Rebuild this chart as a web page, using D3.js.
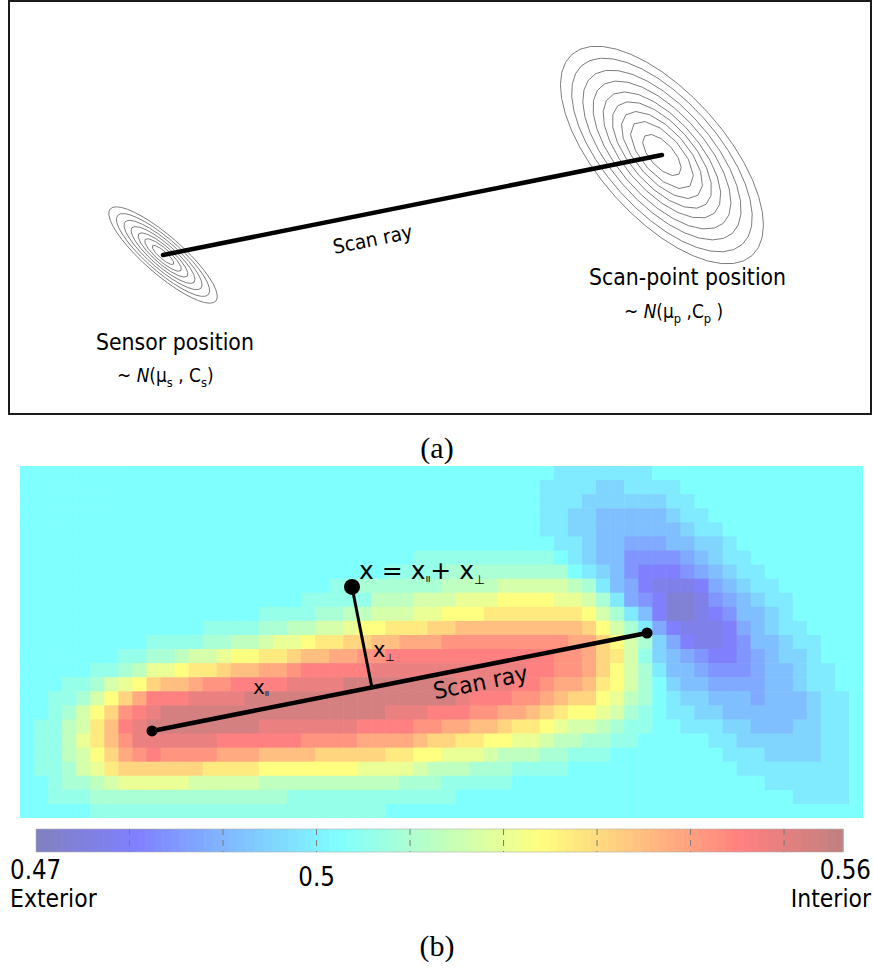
<!DOCTYPE html>
<html><head><meta charset="utf-8">
<script src="https://cdn.jsdelivr.net/npm/d3@7"></script>
<style>
body{margin:0;background:#fff}
svg{display:block}
text{font-family:"DejaVu Sans",sans-serif;fill:#000}
</style>
</head><body>
<svg id="fig" width="873" height="974"></svg>
<script>
// ================= DATA =================
// colour bar
const colorbarDomain = [0.47, 0.5563];
const colorbarTicks = [0.48, 0.49, 0.50, 0.51, 0.52, 0.53, 0.54, 0.55];
const colorbarLabels = ["0.47", "0.5", "0.56"];
const colorbarEnds = ["Exterior", "Interior"];

// heat map: 60 columns x 25 rows, run-length coded levels A (0.47) .. Y (0.556)
const levelCodes = "ABCDEFGHIJKLMNOPQRSTUVWXY";
const gridCols = 60, gridRows = 25;
const heatRows = [
  "38J7I15J",
  "37J4I2H4I13J",
  "37J3I6H2I12J",
  "37J2I2H5GH2I11J",
  "37J2I2H6GH2I10J",
  "38J2IH2G3F2G2HI9J",
  "28J10KJIH2G4EFGH2I8J",
  "26J4K9LJIHGE3DEFGH2I7J",
  "22J2K6L4M5NMLIGFD3CDFGH2I6J",
  "20J5K3M3N3O4P2ONLIFEDBBCEFGH2I5J",
  "17J4K2L2M3N2O3P7QPNLIGDBBCDEGGHI5J",
  "13J4K2L2M2NO2P3Q2R9SRPNLIFD3CDFGH2I4J",
  "9J4K2L2MN2OP2Q2R2S3T9U2TRPNLHFD2CDEGGH2I3J",
  "7J2K2LM2NO2P2QR2S2T2U12V2UTRQNKHGFE2DEFG2HI3J",
  "5J2KLM2OP2QR2S2TU5V11W2V2UTRPNLIGGF3EFGGH2I2J",
  "3J2KLNOPR2ST2U4V4W8X4W2VU2TSQPNLJH2G4F2GH2I2J",
  "2J2KLNPRT3V4W15XW3V2UTS2RPOMLJI2H3GF3GH2IJ",
  "2JKLNPRUVW16X3W3V2U2TSRQ2PONLKJ2I2H6GH2IJ",
  "J2KMNQSVW8X7W4V2U2T2SR2QPO2NML2K2J3I2H3G2H2IJ",
  "J2KMOQSU6W6V4U4TS2R2Q2P2ON2M2L2K5J2I6H2IJ",
  "J2KMNPRTUV4U3T4S5R2Q2P3ON3M2L3K8J3I4H2IJ",
  "J2KLNOQ6R4Q7P4ON3M3L4K12J8IJ",
  "2JK2LMN5O5N10M3L5K18J6IJ",
  "2J3K14L12K24J4IJ",
  "5J21K34J"
];

// scene positions (grid units: column, row)
const sensorTop = [10.18, 18.11];
const scanPointTop = [45.69, 11.01];
const sensorBottom = [9.395, 18.82];
const scanPointBottom = [44.63, 11.86];
const queryPoint = [23.63, 8.59];

// covariance ellipses (semi-axes in grid units, orientation in degrees)
const sensorCov = {a: 4.98, b: 1.35, angle: 41};
const scanCov = {a: 9.6, b: 4.45, angle: 48};
const sensorContourScales = [1, 0.86, 0.72, 0.59, 0.46, 0.34, 0.2];
const scanContourScales = [1, 0.89, 0.78, 0.68, 0.58, 0.49, 0.4, 0.31, 0.19];

// ================= HELPERS =================
function jetPastel(t) {
  const cl = v => Math.max(0, Math.min(1, v));
  const r = cl(1.5 - Math.abs(4 * t - 3));
  const g = cl(1.5 - Math.abs(4 * t - 2));
  const b = cl(1.5 - Math.abs(4 * t - 1));
  return d3.rgb(255 * (0.5 + 0.5 * r), 255 * (0.5 + 0.5 * g), 255 * (0.5 + 0.5 * b)).toString();
}
const colorScale = d3.scaleSequential(jetPastel).domain(colorbarDomain);
const levelValue = i => colorbarDomain[0] + i * (colorbarDomain[1] - colorbarDomain[0]) / (levelCodes.length - 1);

const svg = d3.select("#fig");

function rich(g, x, y, size, parts, opts = {}) {
  const t = g.append("text")
    .attr("transform", `translate(${x},${y}) rotate(${opts.rotate || 0}) scale(1,${opts.sy || 1})`)
    .attr("font-size", size)
    .attr("text-anchor", opts.anchor || "start");
  let shift = 0;
  parts.forEach(p => {
    const ts = t.append("tspan").text(p.t);
    let target = p.sub ? size * (p.subShift || 0.28) : 0;
    if (target !== shift) { ts.attr("dy", target - shift); shift = target; }
    if (p.sub) ts.attr("font-size", size * (p.subSize || 0.68));
    if (p.ls !== undefined) ts.attr("letter-spacing", p.ls);
    if (p.it) ts.attr("font-style", "italic");
  });
  return t;
}

function ellipsePath(sx, sy, center, cov, k, n) {
  const th = cov.angle * Math.PI / 180;
  const pts = d3.range(n).map(i => {
    const p = 2 * Math.PI * i / n;
    const ex = cov.a * k * Math.cos(p), ey = cov.b * k * Math.sin(p);
    return [sx(center[0] + ex * Math.cos(th) - ey * Math.sin(th)),
            sy(center[1] + ex * Math.sin(th) + ey * Math.cos(th))];
  });
  return d3.line().curve(d3.curveLinearClosed)(pts);
}

// ================= PANEL (a) =================
const tx = d3.scaleLinear().domain([0, gridCols]).range([20, 863]);
const ty = d3.scaleLinear().domain([0, gridRows]).range([0, 352]);
const gA = svg.append("g");
gA.append("rect").attr("x", 9).attr("y", 1).attr("width", 862).attr("height", 413)
  .attr("fill", "none").attr("stroke", "#1a1a1a").attr("stroke-width", 2);

[[sensorTop, sensorCov, sensorContourScales], [scanPointTop, scanCov, scanContourScales]].forEach(([c, cov, ks]) => {
  gA.selectAll(null).data(ks).enter().append("path")
    .attr("d", k => ellipsePath(tx, ty, c, cov, k, Math.max(12, Math.round(40 * k))))
    .attr("fill", "none").attr("stroke", "#6e6e6e").attr("stroke-width", 0.9);
});
gA.append("line")
  .attr("x1", tx(sensorTop[0])).attr("y1", ty(sensorTop[1]))
  .attr("x2", tx(scanPointTop[0])).attr("y2", ty(scanPointTop[1]))
  .attr("stroke", "#000").attr("stroke-width", 4.5).attr("stroke-linecap", "round");

const angTop = Math.atan2(ty(scanPointTop[1]) - ty(sensorTop[1]), tx(scanPointTop[0]) - tx(sensorTop[0])) * 180 / Math.PI;
rich(gA, 374, 246, 18.5, [{t: "Scan ray"}], {anchor: "middle", rotate: angTop, sy: 1.08});
rich(gA, 96, 350, 20.5, [{t: "Sensor position"}], {sy: 1.12});
rich(gA, 117, 382, 17, [{t: "~ "}, {t: "N", it: true}, {t: "(μ"}, {t: "s", sub: true}, {t: " , C"}, {t: "s", sub: true}, {t: ")"}], {sy: 1.1});
rich(gA, 589, 285, 20.5, [{t: "Scan-point position"}], {sy: 1.12});
rich(gA, 624, 318, 17, [{t: "~ "}, {t: "N", it: true}, {t: "(μ"}, {t: "p", sub: true}, {t: " ,C"}, {t: "p", sub: true}, {t: " )"}], {sy: 1.1});

svg.append("text").attr("x", 437).attr("y", 458).attr("text-anchor", "middle")
  .style("font-family", "'Liberation Serif', serif").attr("font-size", 30).text("(a)");

// ================= PANEL (b) =================
const bx = d3.scaleLinear().domain([0, gridCols]).range([20, 863]);
const by = d3.scaleLinear().domain([0, gridRows]).range([466, 818]);
const cells = [];
heatRows.forEach((s, r) => {
  let c = 0;
  for (const m of s.matchAll(/(\d*)([A-Y])/g)) {
    const n = m[1] ? +m[1] : 1;
    const lv = levelCodes.indexOf(m[2]);
    for (let k = 0; k < n; k++) { cells.push({r, c, v: levelValue(lv)}); c++; }
  }
});
const gB = svg.append("g");
gB.selectAll("rect.cell").data(cells).enter().append("rect").attr("class", "cell")
  .attr("x", d => bx(d.c)).attr("y", d => by(d.r))
  .attr("width", d => bx(d.c + 1) - bx(d.c) + (d.c < gridCols - 1 ? 0.6 : 0))
  .attr("height", d => by(d.r + 1) - by(d.r) + (d.r < gridRows - 1 ? 0.6 : 0))
  .attr("fill", d => colorScale(d.v));

const S = [bx(sensorBottom[0]), by(sensorBottom[1])];
const P = [bx(scanPointBottom[0]), by(scanPointBottom[1])];
const X = [bx(queryPoint[0]), by(queryPoint[1])];
const dir = [P[0] - S[0], P[1] - S[1]];
const L2 = dir[0] * dir[0] + dir[1] * dir[1];
const tp = ((X[0] - S[0]) * dir[0] + (X[1] - S[1]) * dir[1]) / L2;
const F = [S[0] + tp * dir[0], S[1] + tp * dir[1]];

gB.append("line").attr("x1", S[0]).attr("y1", S[1]).attr("x2", P[0]).attr("y2", P[1])
  .attr("stroke", "#000").attr("stroke-width", 4.5);
gB.append("line").attr("x1", X[0]).attr("y1", X[1]).attr("x2", F[0]).attr("y2", F[1])
  .attr("stroke", "#000").attr("stroke-width", 3);
gB.append("circle").attr("cx", S[0]).attr("cy", S[1]).attr("r", 5.5).attr("fill", "#000");
gB.append("circle").attr("cx", P[0]).attr("cy", P[1]).attr("r", 5.5).attr("fill", "#000");
gB.append("circle").attr("cx", X[0]).attr("cy", X[1]).attr("r", 8).attr("fill", "#000");

const par = {t: "\u0131\u0131", sub: true, subSize: 0.42, subShift: 0.12, ls: -0.5};
const perp = {t: "\u22A5", sub: true, subSize: 0.5, subShift: 0.2};
const angB = Math.atan2(dir[1], dir[0]) * 180 / Math.PI;
rich(gB, 482, 690, 22, [{t: "Scan ray"}], {anchor: "middle", rotate: angB, sy: 1.05});
rich(gB, 359, 579, 25, [{t: "x = x"}, par, {t: "+ x"}, perp]);
rich(gB, 373, 657, 21, [{t: "x"}, perp]);
rich(gB, 253, 694, 20, [{t: "x"}, par]);

// ================= COLOUR BAR =================
const cb = d3.scaleLinear().domain(colorbarDomain).range([36, 843]);
const steps = d3.range(0, 1, 1 / 96);
const gC = svg.append("g");
gC.selectAll("rect").data(steps).enter().append("rect")
  .attr("x", t => cb(colorbarDomain[0] + t * (colorbarDomain[1] - colorbarDomain[0])))
  .attr("y", 829)
  .attr("width", (cb.range()[1] - cb.range()[0]) / 96 + 0.6)
  .attr("height", 23)
  .attr("fill", t => jetPastel(t + 0.5 / 96));
gC.append("rect").attr("x", 36).attr("y", 829).attr("width", 807).attr("height", 23)
  .attr("fill", "none").attr("stroke", "#b0b0b0").attr("stroke-width", 0.6);
gC.selectAll("line").data(colorbarTicks).enter().append("line")
  .attr("x1", d => cb(d)).attr("x2", d => cb(d)).attr("y1", 829).attr("y2", 852)
  .attr("stroke", "#7a7a7a").attr("stroke-width", 1).attr("stroke-dasharray", "6,5");

rich(gC, 10, 879, 23, [{t: colorbarLabels[0]}], {sy: 1.12});
rich(gC, cb(0.5), 886, 23, [{t: colorbarLabels[1]}], {anchor: "middle", sy: 1.12});
rich(gC, 871, 879, 23, [{t: colorbarLabels[2]}], {anchor: "end", sy: 1.12});
rich(gC, 10, 907, 22, [{t: colorbarEnds[0]}], {sy: 1.1});
rich(gC, 871, 907, 22, [{t: colorbarEnds[1]}], {anchor: "end", sy: 1.1});

svg.append("text").attr("x", 437).attr("y", 956).attr("text-anchor", "middle")
  .style("font-family", "'Liberation Serif', serif").attr("font-size", 30).text("(b)");
</script>
</body></html>
